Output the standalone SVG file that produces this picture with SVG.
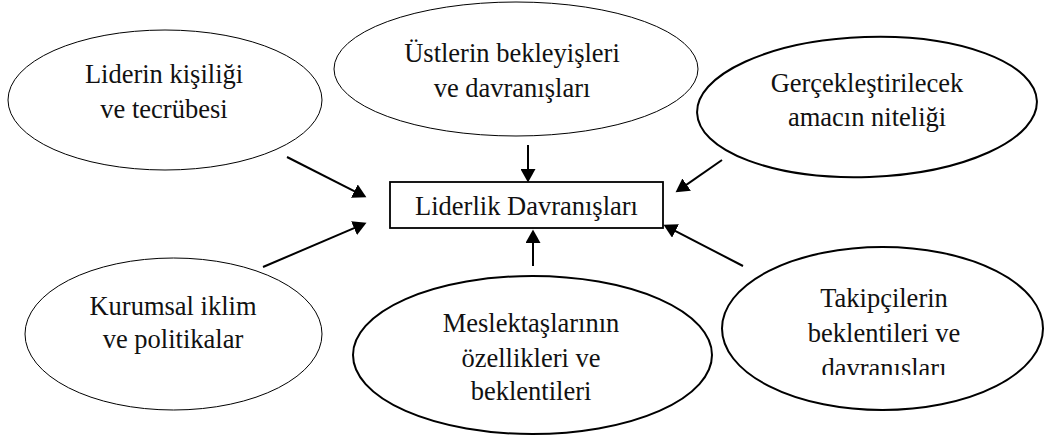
<svg xmlns="http://www.w3.org/2000/svg" width="1050" height="441" viewBox="0 0 1050 441">
<style>
.thin{fill:#fff;stroke:#000;stroke-width:1}
.thick{fill:#fff;stroke:#000;stroke-width:2}
.box{fill:#fff;stroke:#000;stroke-width:1.8}
.t{font-family:'Liberation Serif','Times New Roman',serif;font-size:26.5px;fill:#111;text-anchor:middle}
.conn line{stroke:#000;stroke-width:2;marker-end:url(#ah)}
</style>
<defs>
<marker id="ah" markerUnits="userSpaceOnUse" markerWidth="14" markerHeight="15" refX="7" refY="7.5" orient="auto">
<path d="M0,0 L13.5,7.5 L0,15 z" fill="#000"/>
</marker>
<clipPath id="cut6"><rect x="700" y="240" width="350" height="135"/></clipPath>
</defs>
<g id="node-lider">
<ellipse class="thin" cx="165" cy="100" rx="157" ry="70"/>
<text class="t" x="164" y="83">Liderin kişiliği</text>
<text class="t" x="164" y="118">ve tecrübesi</text>
</g>
<g id="node-ustler">
<ellipse class="thin" cx="516" cy="69" rx="182" ry="67"/>
<text class="t" x="512" y="62">Üstlerin bekleyişleri</text>
<text class="t" x="512" y="97">ve davranışları</text>
</g>
<g id="node-amac">
<ellipse class="thick" cx="867" cy="107" rx="170" ry="70" transform="rotate(-2 867 107)"/>
<text class="t" x="867" y="92">Gerçekleştirilecek</text>
<text class="t" x="867" y="126">amacın niteliği</text>
</g>
<g id="node-kurumsal">
<ellipse class="thin" cx="173.5" cy="334" rx="148.5" ry="76"/>
<text class="t" x="173" y="315">Kurumsal iklim</text>
<text class="t" x="173" y="348">ve politikalar</text>
</g>
<g id="node-meslektas">
<ellipse class="thick" cx="532.5" cy="355" rx="179.5" ry="79"/>
<text class="t" x="531" y="332">Meslektaşlarının</text>
<text class="t" x="531" y="367">özellikleri ve</text>
<text class="t" x="531" y="400">beklentileri</text>
</g>
<g id="node-takipci">
<ellipse class="thick" cx="882.5" cy="328.5" rx="160.5" ry="81.5"/>
<text class="t" x="884" y="307">Takipçilerin</text>
<text class="t" x="884" y="342">beklentileri ve</text>
<text class="t" x="884" y="377" clip-path="url(#cut6)">davranışları</text>
</g>
<g id="node-center">
<rect class="box" x="390" y="182" width="273" height="46"/>
<text class="t" x="526.5" y="215">Liderlik Davranışları</text>
</g>
<g class="conn" id="connectors">
<line x1="287" y1="157" x2="360.6" y2="194.3"/>
<line x1="263" y1="267" x2="360.5" y2="225.4"/>
<line x1="528" y1="145" x2="528" y2="176"/>
<line x1="533" y1="266" x2="533" y2="236"/>
<line x1="722" y1="160" x2="680.9" y2="188.6"/>
<line x1="743" y1="266" x2="669.3" y2="227.8"/>
</g>
</svg>
